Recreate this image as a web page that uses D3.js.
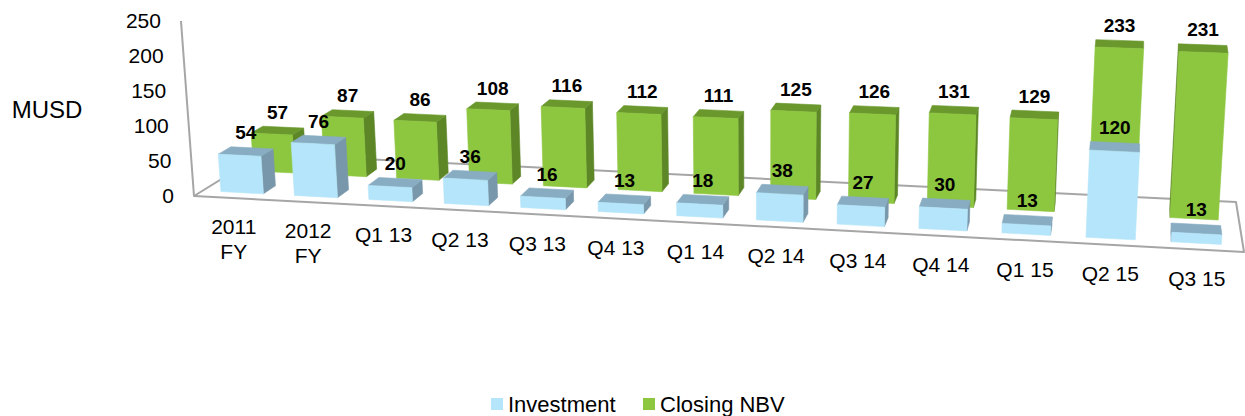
<!DOCTYPE html>
<html>
<head>
<meta charset="utf-8">
<script src="https://cdn.jsdelivr.net/npm/d3@7"></script>
<style>
  body { margin: 0; background: #fff; }
  svg text { font-family: "Liberation Sans", Arial, sans-serif; fill: #000; }
</style>
</head>
<body>
<div id="chart"></div>
<script>
// Data

const categories = ["2011\nFY", "2012\nFY", "Q1 13", "Q2 13", "Q3 13", "Q4 13", "Q1 14",
  "Q2 14", "Q3 14", "Q4 14", "Q1 15", "Q2 15", "Q3 15"];
const investment = [54, 76, 20, 36, 16, 13, 18, 38, 27, 30, 13, 120, 13];
const closingNBV = [57, 87, 86, 108, 116, 112, 111, 125, 126, 131, 129, 233, 231];
const seriesNames = ["Investment", "Closing NBV"];
const yTicks = [0, 50, 100, 150, 200, 250];

(function () {
  const width = 1245;
  const height = 416;

  // Floor corners on screen: front-left, front-right, back-right, back-left
  const floor = [[194, 196], [1244, 252], [1236, 202], [262, 154]];
  const nadir = [764, 7855];   // vertical lines meet far below

  const colors = {
    "Investment": { front: "#b5e5fa", top: "#88adc2", side: "#7897aa" },
    "Closing NBV": { front: "#8dc63f", top: "#6a982d", side: "#5d8726" }
  };

  const svg = d3.select("#chart")
    .append("svg")
    .attr("width", width)
    .attr("height", height);

  // Square -> quad homography for the floor

  function homography(p0, p1, p2, p3) {
    const dx1 = p1[0] - p2[0], dx2 = p3[0] - p2[0], dx3 = p0[0] - p1[0] + p2[0] - p3[0];
    const dy1 = p1[1] - p2[1], dy2 = p3[1] - p2[1], dy3 = p0[1] - p1[1] + p2[1] - p3[1];
    const den = dx1 * dy2 - dx2 * dy1;
    const g = (dx3 * dy2 - dx2 * dy3) / den;
    const h = (dx1 * dy3 - dx3 * dy1) / den;
    const a = p1[0] - p0[0] + g * p1[0], b = p3[0] - p0[0] + h * p3[0], c = p0[0];
    const d = p1[1] - p0[1] + g * p1[1], e = p3[1] - p0[1] + h * p3[1], f = p0[1];
    return (u, w) => {
      const q = g * u + h * w + 1;
      return [(a * u + b * w + c) / q, (d * u + e * w + f) / q];
    };
  }

  const floorAt = homography(...floor);

  // Scales

  const xScale = d3.scaleBand()
    .domain(categories)
    .range([0, 1])
    .paddingInner(0.42)
    .paddingOuter(0.25);

  const zScale = d3.scaleBand()
    .domain(seriesNames)
    .range([0.12, 0.78])
    .paddingInner(0.625)
    .paddingOuter(0);

  const yScale = d3.scaleLinear()
    .domain([0, 250])
    .range([0, 175]);

  // (u along categories 0..1, w depth 0..1, value) -> screen
  function project(u, w, v) {
    const [bx, by] = floorAt(u, w);
    const t = (bx - floor[0][0]) / (floor[1][0] - floor[0][0]);
    const k = (1 + 0.05 * t) * (1 - 0.09 * w * (1 - 0.7 * t));
    const hgt = yScale(v) * k;
    return [bx + (bx - nadir[0]) * hgt / (nadir[1] - by), by - hgt];
  }

  // Floor

  svg.append("polygon")
    .attr("points", floor.map(p => p.join(",")).join(" "))
    .attr("fill", "#fff")
    .attr("stroke", "#a6a6a6")
    .attr("stroke-width", 2)
    .attr("stroke-linejoin", "round");

  // Value axis

  const axisBottom = project(0, 0, 0);
  const axisTop = project(0, 0, 250);
  svg.append("line")
    .attr("x1", axisBottom[0]).attr("y1", axisBottom[1])
    .attr("x2", axisTop[0]).attr("y2", axisTop[1])
    .attr("stroke", "#a6a6a6")
    .attr("stroke-width", 2);

  svg.append("g")
    .selectAll("text")
    .data(yTicks)
    .join("text")
    .attr("x", d => project(0, 0, d)[0] - 20)
    .attr("y", d => project(0, 0, d)[1])
    .attr("dy", "0.35em")
    .attr("text-anchor", "end")
    .style("font-size", "21px")
    .text(d => d);

  svg.append("text")
    .attr("x", 47)
    .attr("y", 110)
    .attr("dy", "0.35em")
    .attr("text-anchor", "middle")
    .style("font-size", "24px")
    .text("MUSD");

  // Category labels

  const catLabels = svg.append("g")
    .selectAll("text")
    .data(categories)
    .join("text")
    .attr("text-anchor", "middle")
    .style("font-size", "21px")
    .attr("transform", d => {
      const p = project(xScale(d) + xScale.bandwidth() / 2, 0, 0);
      return `translate(${p[0]},${p[1] + 29})`;
    });

  catLabels.selectAll("tspan")
    .data(d => d.split("\n"))
    .join("tspan")
    .attr("x", 0)
    .attr("y", (d, i) => i * 25)
    .attr("dy", "0.35em")
    .text(d => d);

  // Bars

  const bars = [];
  [["Closing NBV", closingNBV], ["Investment", investment]].forEach(([name, values]) => {
    categories.forEach((cat, i) => {
      bars.push({ series: name, cat: cat, value: values[i] });
    });
  });

  function faces(d) {
    const u0 = xScale(d.cat), u1 = u0 + xScale.bandwidth();
    const w0 = zScale(d.series), w1 = w0 + zScale.bandwidth();
    const v = d.value;
    const c = colors[d.series];
    const list = [
      { fill: c.side, pts: [[u0, w1, 0], [u0, w0, 0], [u0, w0, v], [u0, w1, v]] },
      { fill: c.side, pts: [[u1, w0, 0], [u1, w1, 0], [u1, w1, v], [u1, w0, v]] },
      { fill: c.top, pts: [[u0, w0, v], [u1, w0, v], [u1, w1, v], [u0, w1, v]] },
      { fill: c.front, pts: [[u0, w0, 0], [u1, w0, 0], [u1, w0, v], [u0, w0, v]] }
    ];
    return list
      .map(f => ({ fill: f.fill, pts: f.pts.map(p => project(...p)) }))
      .filter(f => d3.polygonArea(f.pts) > 0);
  }

  const barGroups = svg.append("g")
    .selectAll("g.bar")
    .data(bars)
    .join("g")
    .attr("class", "bar");

  barGroups.selectAll("polygon")
    .data(d => faces(d))
    .join("polygon")
    .attr("points", f => f.pts.map(p => p.join(",")).join(" "))
    .attr("fill", f => f.fill)
    .attr("stroke", f => f.fill)
    .attr("stroke-width", 0.6)
    .attr("stroke-linejoin", "round");

  // Value labels

  svg.append("g")
    .selectAll("text")
    .data(bars)
    .join("text")
    .attr("x", d => project(xScale(d.cat) + xScale.bandwidth() / 2, zScale(d.series) + zScale.bandwidth() / 2, d.value)[0])
    .attr("y", d => project(xScale(d.cat) + xScale.bandwidth() / 2, zScale(d.series) + zScale.bandwidth(), d.value)[1] - 15)
    .attr("dy", "0.35em")
    .attr("text-anchor", "middle")
    .style("font-size", "19px")
    .style("font-weight", "bold")
    .text(d => d.value);

  // Legend

  const legend = svg.append("g")
    .attr("transform", "translate(491, 404)");

  const legendX = [0, 152];
  const items = legend.selectAll("g")
    .data(seriesNames)
    .join("g")
    .attr("transform", (d, i) => `translate(${legendX[i]}, 0)`);

  items.append("rect")
    .attr("x", 0)
    .attr("y", -6)
    .attr("width", 12)
    .attr("height", 12)
    .attr("fill", d => colors[d].front);

  items.append("text")
    .attr("x", 17)
    .attr("y", 0)
    .attr("dy", "0.35em")
    .style("font-size", "22px")
    .text(d => d);
})();
</script>
</body>
</html>
